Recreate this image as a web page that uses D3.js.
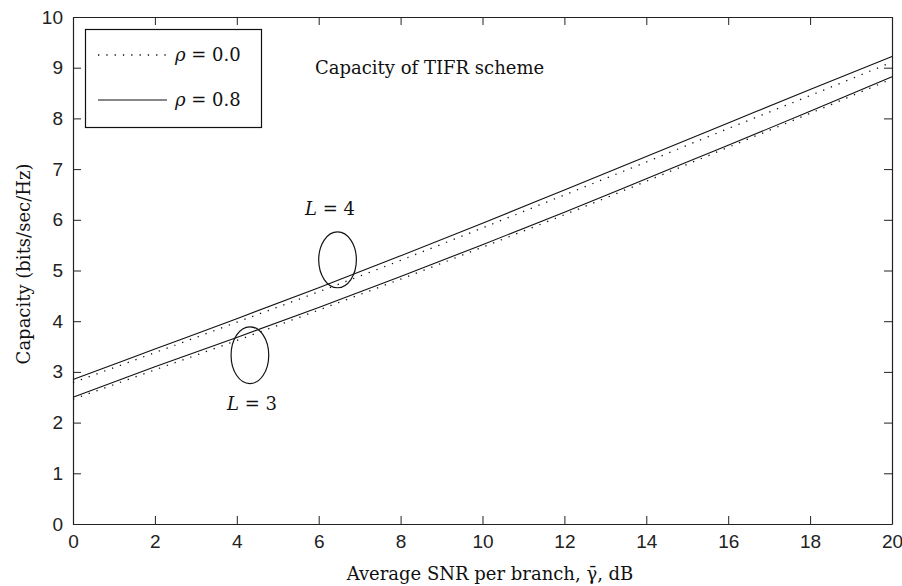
<!DOCTYPE html>
<html>
<head>
<meta charset="utf-8">
<script src="https://cdn.jsdelivr.net/npm/d3@7"></script>
<style>
  body { margin: 0; background: #fff; }
  svg { display: block; }
  .tick text { font-family: "Liberation Sans", Arial, sans-serif; font-size: 19px; fill: #222; }
  .domain, .tick line { stroke: #222; }
</style>
</head>
<body>
<div id="chart"></div>
<script>
(function(){

    // SNR grid (dB)
    var snr = [0, 2, 4, 6, 8, 10, 12, 14, 16, 18, 20];

    // capacity (bits/sec/Hz)
    var capL4rho08 = [2.85, 3.45, 4.05, 4.66, 5.29, 5.93, 6.59, 7.25, 7.91, 8.57, 9.22];
    var capL4rho00 = [2.79, 3.38, 3.98, 4.58, 5.20, 5.84, 6.49, 7.14, 7.80, 8.45, 9.11];
    var capL3rho08 = [2.50, 3.10, 3.68, 4.27, 4.88, 5.51, 6.15, 6.81, 7.47, 8.14, 8.82];
    var capL3rho00 = [2.46, 3.04, 3.62, 4.22, 4.83, 5.46, 6.10, 6.76, 7.43, 8.10, 8.78];

    var xTicks = [0, 2, 4, 6, 8, 10, 12, 14, 16, 18, 20];
    var yTicks = [0, 1, 2, 3, 4, 5, 6, 7, 8, 9, 10];

    // ellipse markers: [centre snr, centre capacity, half width dB, half height]
    var ellipseL4 = [6.46, 5.21, 0.46, 0.55];
    var ellipseL3 = [4.32, 3.33, 0.46, 0.56];

    var width = 902, height = 586;

    var svg = d3.select("#chart").append("svg")
        .attr("width", width)
        .attr("height", height);

    var x = d3.scaleLinear().domain([0, 20]).range([73, 892]);
    var y = d3.scaleLinear().domain([0, 10]).range([524, 17]);

    //axes, ticks pointing inward like matlab
    svg.append("g")
        .attr("transform", "translate(0," + y(0) + ")")
        .call(d3.axisBottom(x).tickValues(xTicks).tickSize(-8).tickSizeOuter(0).tickPadding(11));
    svg.append("g")
        .attr("transform", "translate(" + x(0) + ",0)")
        .call(d3.axisLeft(y).tickValues(yTicks).tickSize(-8).tickSizeOuter(0).tickPadding(10));
    svg.append("g")
        .attr("transform", "translate(0," + y(10) + ")")
        .call(d3.axisTop(x).tickValues(xTicks).tickSize(-8).tickSizeOuter(0).tickFormat(""));
    svg.append("g")
        .attr("transform", "translate(" + x(20) + ",0)")
        .call(d3.axisRight(y).tickValues(yTicks).tickSize(-8).tickSizeOuter(0).tickFormat(""));
    svg.selectAll(".domain").attr("stroke-width", 1.2);

    var line = d3.line()
        .x(function(d){ return x(d[0]); })
        .y(function(d){ return y(d[1]); })
        .curve(d3.curveMonotoneX);

    function series(vals){
        return snr.map(function(s, i){ return [s, vals[i]]; });
    }

    var curves = [
        {vals: capL4rho00, dotted: true},
        {vals: capL3rho00, dotted: true},
        {vals: capL4rho08, dotted: false},
        {vals: capL3rho08, dotted: false}
    ];
    svg.selectAll(".curve")
        .data(curves)
        .enter()
        .append("path")
        .attr("class", "curve")
        .attr("d", function(d){ return line(series(d.vals)); })
        .attr("fill", "none")
        .attr("stroke", "#111")
        .attr("stroke-width", function(d){ return d.dotted ? 1.3 : 1.1; })
        .attr("stroke-dasharray", function(d){ return d.dotted ? "1.3,7" : null; });

    // ellipses
    [ellipseL4, ellipseL3].forEach(function(e){
        svg.append("ellipse")
            .attr("cx", x(e[0]))
            .attr("cy", y(e[1]))
            .attr("rx", x(e[0] + e[2]) - x(e[0]))
            .attr("ry", y(e[1] - e[3]) - y(e[1]))
            .attr("fill", "none")
            .attr("stroke", "#111")
            .attr("stroke-width", 1.2);
    });

    var serif = "'DejaVu Serif', 'Liberation Serif', serif";

    function mathLabel(px, py, sym, rest, size, anchor){
        var t = svg.append("text")
            .attr("x", px).attr("y", py)
            .attr("text-anchor", anchor || "start")
            .attr("font-family", serif)
            .attr("font-size", size)
            .attr("fill", "#111");
        t.append("tspan").attr("font-style", "italic").text(sym);
        t.append("tspan").text(rest);
        return t;
    }

    mathLabel(330, 215, "L", " = 4", 18, "middle");
    mathLabel(252, 410, "L", " = 3", 18, "middle");

    svg.append("text")
        .attr("x", 315).attr("y", 74)
        .attr("font-family", serif)
        .attr("font-size", 18)
        .attr("fill", "#111")
        .text("Capacity of TIFR scheme");

    // legend
    svg.append("rect")
        .attr("x", 85.5).attr("y", 29.5)
        .attr("width", 176).attr("height", 98)
        .attr("fill", "#fff")
        .attr("stroke", "#111")
        .attr("stroke-width", 1.2);
    svg.append("line")
        .attr("x1", 98).attr("x2", 168).attr("y1", 55).attr("y2", 55)
        .attr("stroke", "#111").attr("stroke-width", 1.3).attr("stroke-dasharray", "1.3,7");
    svg.append("line")
        .attr("x1", 98).attr("x2", 167).attr("y1", 100).attr("y2", 100)
        .attr("stroke", "#111").attr("stroke-width", 1.1);
    mathLabel(175, 61, "\u03C1", " = 0.0", 18);
    mathLabel(175, 106, "\u03C1", " = 0.8", 18);

    // axis titles
    var xl = svg.append("text")
        .attr("x", 490).attr("y", 580)
        .attr("text-anchor", "middle")
        .attr("font-family", serif)
        .attr("font-size", 18)
        .attr("fill", "#111");
    xl.append("tspan").text("Average SNR per branch, ");
    xl.append("tspan").text("\u03B3\u0304");
    xl.append("tspan").text(", dB");

    svg.append("text")
        .attr("transform", "translate(30,264) rotate(-90)")
        .attr("text-anchor", "middle")
        .attr("font-family", serif)
        .attr("font-size", 18)
        .attr("fill", "#111")
        .text("Capacity (bits/sec/Hz)");

})();
</script>
</body>
</html>
